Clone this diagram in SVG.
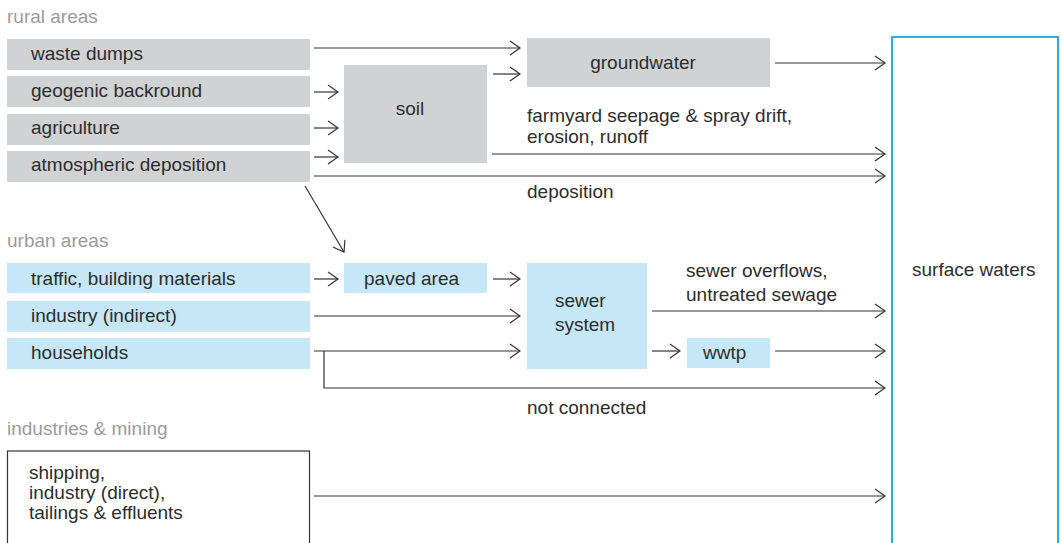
<svg xmlns="http://www.w3.org/2000/svg" width="1061" height="543" viewBox="0 0 1061 543">
<defs>
<marker id="arr" markerUnits="userSpaceOnUse" markerWidth="14" markerHeight="18" refX="11" refY="8" orient="auto">
<path d="M1,1 L11,8 L1,15" fill="none" stroke="#333" stroke-width="1.2"/>
</marker>
<style>
text{font-family:"Liberation Sans",Arial,sans-serif;font-size:19px;fill:#2d2d2d}
.sec{fill:#9b9b9b}
.g{fill:#d1d2d4}
.b{fill:#c6e7f8}
.c{fill:none;stroke:#333;stroke-width:1.2;marker-end:url(#arr)}
.p{fill:none;stroke:#333;stroke-width:1.2}
</style>
</defs>
<rect width="1061" height="543" fill="#fff"/>
<text class="sec" x="7" y="23">rural areas</text>
<text class="sec" x="7" y="247">urban areas</text>
<text class="sec" x="7" y="435">industries &amp; mining</text>

<g id="surface-waters">
<rect x="892" y="37" width="166" height="520" fill="none" stroke="#29aee6" stroke-width="2"/>
<text x="912" y="276">surface waters</text>
</g>
<g id="waste-dumps"><rect class="g" x="7" y="39" width="303" height="31"/><text x="31" y="60">waste dumps</text></g>
<g id="geogenic"><rect class="g" x="7" y="76" width="303" height="31"/><text x="31" y="97">geogenic backround</text></g>
<g id="agriculture"><rect class="g" x="7" y="114" width="303" height="31"/><text x="31" y="134">agriculture</text></g>
<g id="atmospheric"><rect class="g" x="7" y="151" width="303" height="31"/><text x="31" y="171">atmospheric deposition</text></g>
<g id="soil"><rect class="g" x="344" y="65" width="143" height="98"/><text x="410" y="115" text-anchor="middle">soil</text></g>
<g id="groundwater"><rect class="g" x="527" y="38" width="243" height="49"/><text x="643" y="69" text-anchor="middle">groundwater</text></g>

<g id="traffic"><rect class="b" x="7" y="263" width="303" height="30"/><text x="31" y="285">traffic, building materials</text></g>
<g id="industry-indirect"><rect class="b" x="7" y="301" width="303" height="31"/><text x="31" y="322">industry (indirect)</text></g>
<g id="households"><rect class="b" x="7" y="338" width="303" height="31"/><text x="31" y="359">households</text></g>
<g id="paved-area"><rect class="b" x="344" y="263" width="143" height="30"/><text x="364" y="285">paved area</text></g>
<g id="sewer-system"><rect class="b" x="527" y="263" width="120" height="106"/><text x="555" y="307">sewer</text><text x="555" y="331">system</text></g>
<g id="wwtp"><rect class="b" x="687" y="338" width="83" height="30"/><text x="703" y="359">wwtp</text></g>

<g id="industries-mining"><rect x="7.5" y="451" width="302" height="100" fill="none" stroke="#333" stroke-width="1.2"/>
<text x="29" y="479">shipping,</text><text x="29" y="499">industry (direct),</text><text x="29" y="519">tailings &amp; effluents</text></g>

<g id="connectors">
<line class="c" x1="314" y1="48" x2="520" y2="48"/>
<line class="c" x1="314" y1="92" x2="338" y2="92"/>
<line class="c" x1="314" y1="128" x2="338" y2="128"/>
<line class="c" x1="314" y1="157" x2="338" y2="157"/>
<line class="c" x1="493" y1="74" x2="520" y2="74"/>
<line class="c" x1="775" y1="63" x2="885" y2="63"/>
<line class="c" x1="492" y1="154" x2="885" y2="154"/>
<line class="c" x1="314" y1="176" x2="885" y2="176"/>
<line class="c" x1="305" y1="186" x2="344" y2="252"/>
<line class="c" x1="314" y1="279" x2="338" y2="279"/>
<line class="c" x1="493" y1="279" x2="520" y2="279"/>
<line class="c" x1="314" y1="316" x2="520" y2="316"/>
<line class="c" x1="314" y1="351" x2="520" y2="351"/>
<polyline class="c" points="324,351 324,388 885,388"/>
<line class="c" x1="652" y1="311" x2="885" y2="311"/>
<line class="c" x1="652" y1="351" x2="680" y2="351"/>
<line class="c" x1="775" y1="351" x2="885" y2="351"/>
<line class="c" x1="314" y1="496" x2="885" y2="496"/>
</g>
<text x="527" y="122">farmyard seepage &amp; spray drift,</text>
<text x="527" y="143">erosion, runoff</text>
<text x="527" y="198">deposition</text>
<text x="686" y="277">sewer overflows,</text>
<text x="686" y="301">untreated sewage</text>
<text x="527" y="414">not connected</text>
</svg>
